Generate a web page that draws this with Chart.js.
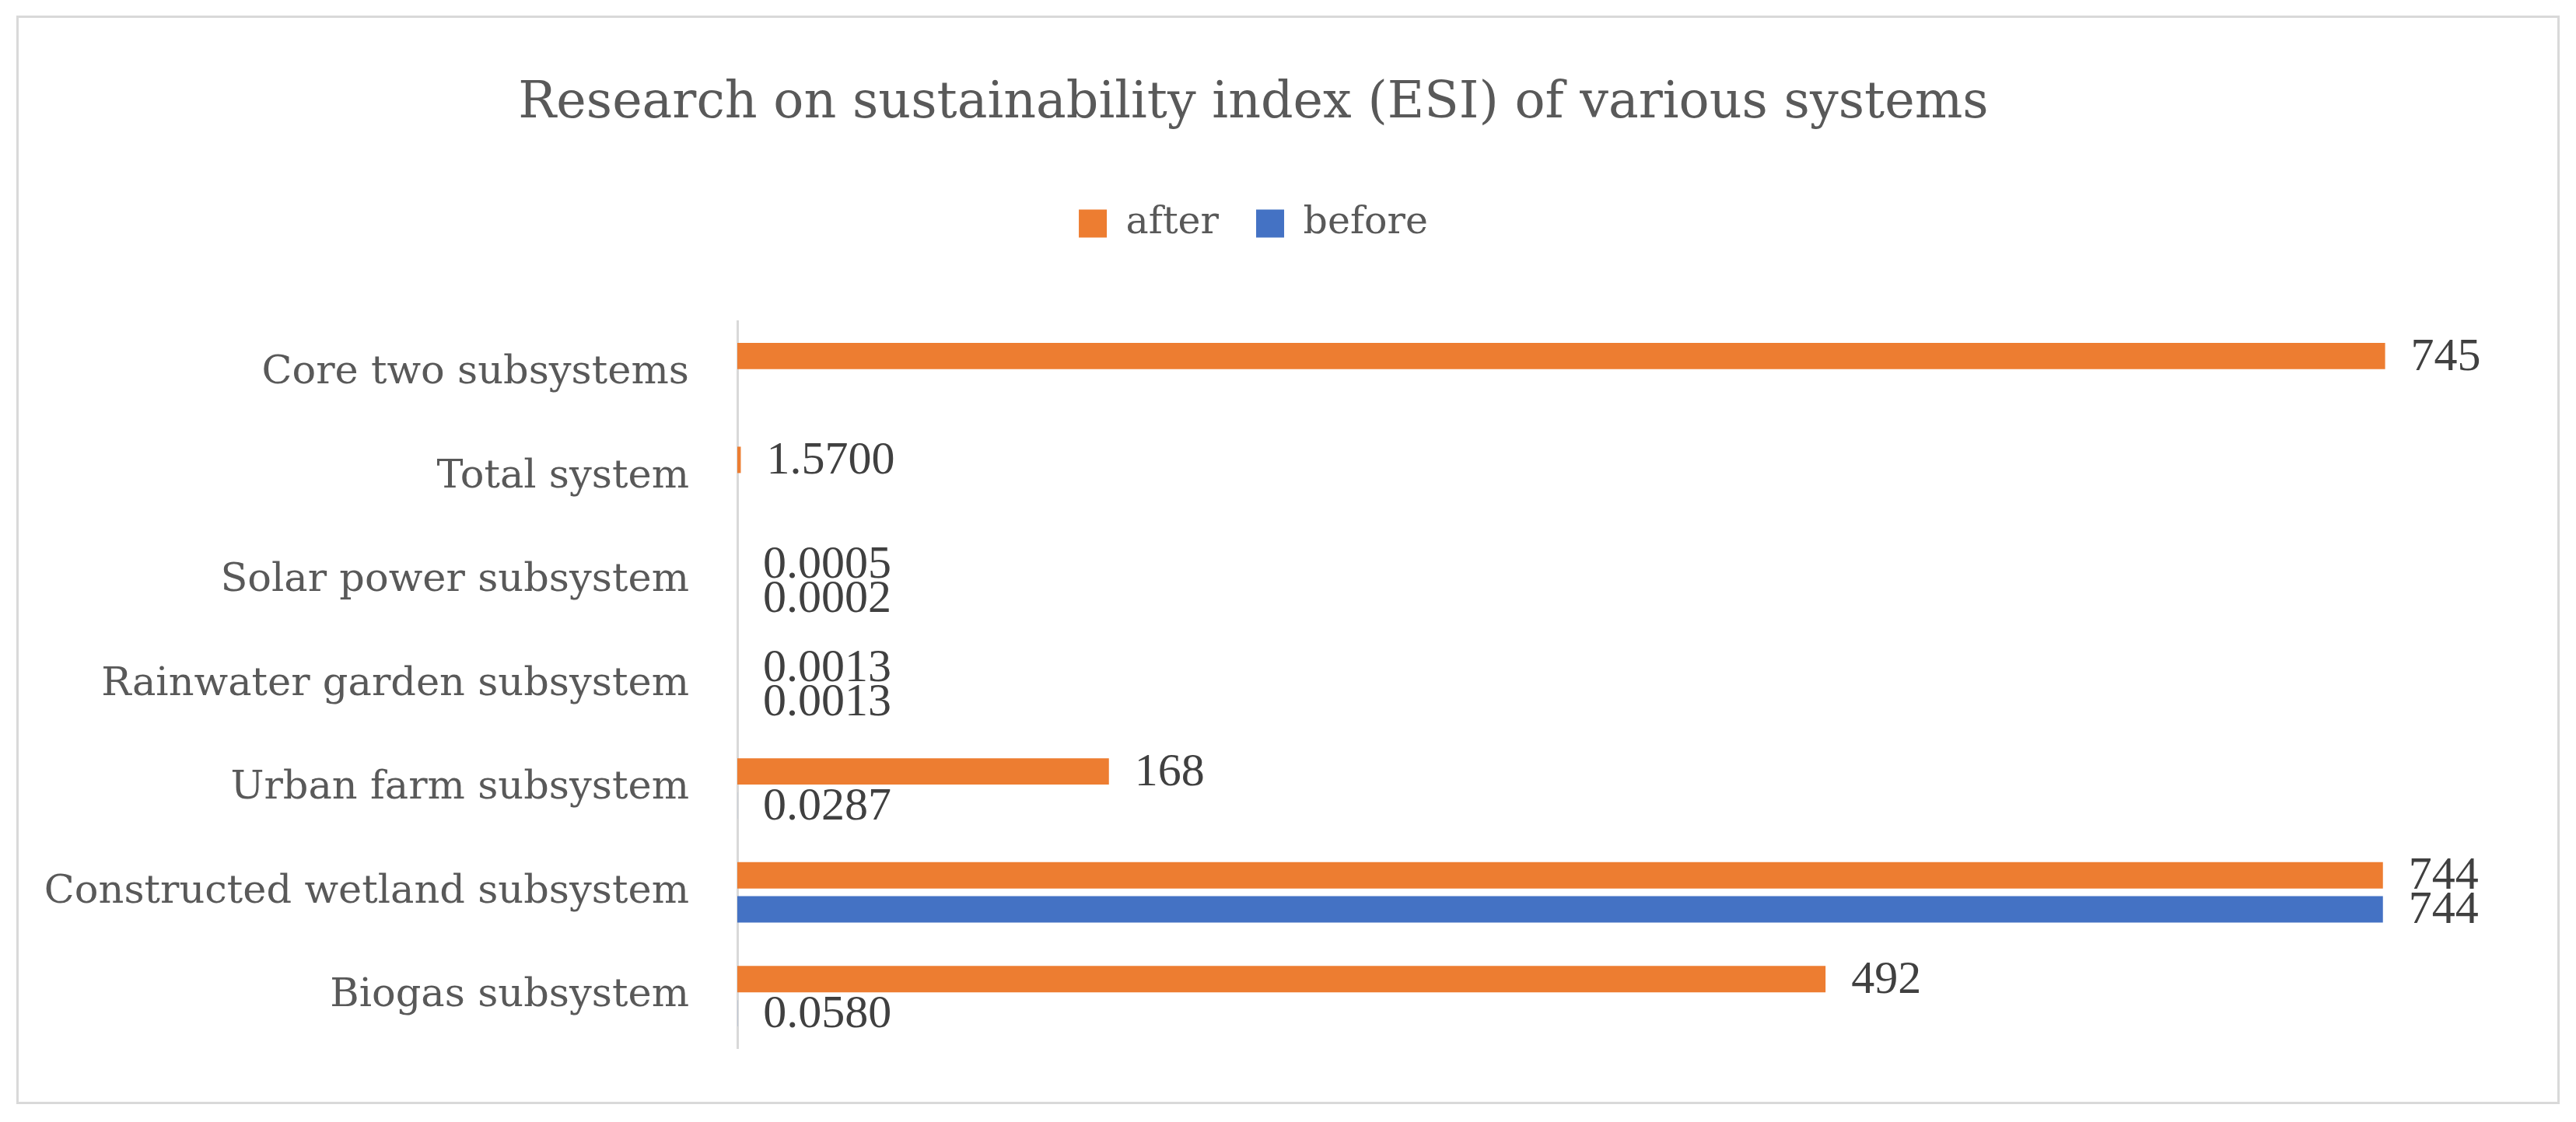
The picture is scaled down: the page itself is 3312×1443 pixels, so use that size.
<!DOCTYPE html>
<html>
<head>
<meta charset="utf-8">
<script src="https://cdn.jsdelivr.net/npm/chart.js@4"></script>
<style>
  html, body { margin: 0; padding: 0; background: #ffffff; }
  #wrap { position: relative; width: 3312px; height: 1443px; }
  #frame {
    position: absolute; left: 21px; top: 20px; width: 3270px; height: 1400px;
    border: 3px solid #d9d9d9; box-sizing: border-box;
  }
  #esiChart { position: absolute; left: 0; top: 0; }
</style>
</head>
<body>
<div id="wrap">
  <div id="frame"></div>
  <canvas id="esiChart" width="3312" height="1443"></canvas>
</div>
<script>
// ===== Data =====

const categories = [
  "Core two subsystems",
  "Total system",
  "Solar power subsystem",
  "Rainwater garden subsystem",
  "Urban farm subsystem",
  "Constructed wetland subsystem",
  "Biogas subsystem"
];

const afterValues = [745, 1.57, 0.0005, 0.0013, 168, 744, 492];

const beforeValues = [null, null, 0.0002, 0.0013, 0.0287, 744, 0.0580];

const seriesNames = ["after", "before"];

const axisMax = 800;


// ===== Style =====

const textGrey = "#595959";
const serif = "'DejaVu Serif', serif";
const numFont = "'Liberation Serif', serif";

function formatValue(v) {
  return v >= 10 ? String(Math.round(v)) : v.toFixed(4);
}


// ===== Value labels =====

const valueLabels = {
  id: "valueLabels",
  afterDatasetsDraw(chart) {
    const ctx = chart.ctx;
    ctx.save();
    ctx.font = "60px " + numFont;
    ctx.fillStyle = "#404040";
    ctx.textAlign = "left";
    ctx.textBaseline = "middle";
    chart.data.datasets.forEach((ds, di) => {
      const meta = chart.getDatasetMeta(di);
      meta.data.forEach((bar, i) => {
        const v = ds.data[i];
        if (v === null || v === undefined) return;
        ctx.fillText(formatValue(v), bar.x + 33, bar.y + 2);
      });
    });
    ctx.restore();
  }
};


// ===== Chart =====

const chart = document.getElementById("esiChart");

new Chart(chart, {
  type: "bar",
  data: {
    labels: categories,
    datasets: [
      {
        label: seriesNames[0],
        data: afterValues,
        backgroundColor: "#ED7D31",
        barPercentage: 0.773,
        categoryPercentage: 0.657
      },
      {
        label: seriesNames[1],
        data: beforeValues,
        backgroundColor: "#4472C4",
        barPercentage: 0.773,
        categoryPercentage: 0.657
      }
    ]
  },
  options: {
    indexAxis: "y",
    responsive: false,
    devicePixelRatio: 1,
    animation: false,
    layout: {
      padding: { top: 0, left: 0, right: 89, bottom: 95 }
    },
    plugins: {
      title: {
        display: true,
        text: "Research on sustainability index (ESI) of various systems",
        color: textGrey,
        font: { family: serif, size: 65, weight: "normal" },
        padding: { top: 95, bottom: 42 }
      },
      legend: {
        position: "top",
        labels: {
          color: textGrey,
          font: { family: serif, size: 49 },
          boxWidth: 36,
          boxHeight: 36,
          padding: 48
        }
      },
      tooltip: { enabled: false }
    },
    scales: {
      x: {
        display: false,
        min: 0,
        max: axisMax
      },
      xTop: {
        position: "top",
        display: true,
        min: 0,
        max: axisMax,
        ticks: { display: false },
        grid: { display: false },
        border: { display: false },
        afterFit(scale) { scale.height = 91; }
      },
      y: {
        grid: { display: false },
        border: { display: true, color: "#d9d9d9", width: 3 },
        ticks: {
          color: textGrey,
          padding: 54,
          font: { family: serif, size: 51 }
        },
        afterFit(scale) { scale.width = 948; }
      }
    }
  },
  plugins: [valueLabels]
});
</script>
</body>
</html>
